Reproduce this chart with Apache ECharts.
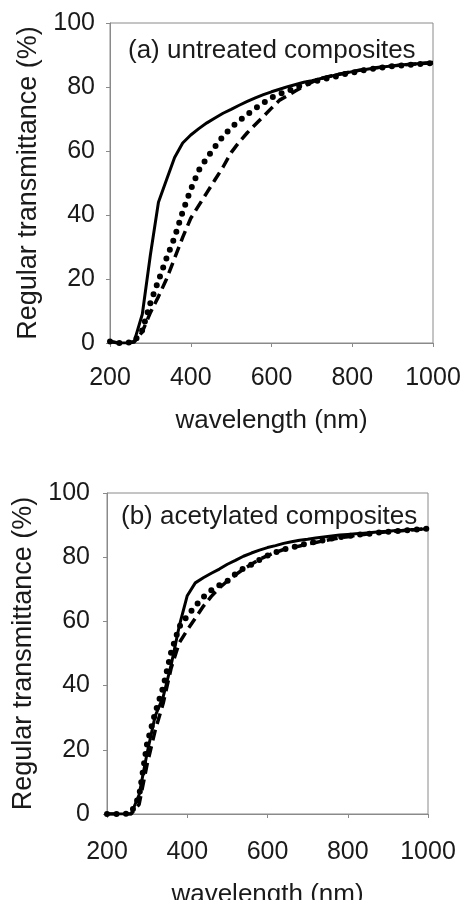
<!DOCTYPE html>
<html>
<head>
<meta charset="utf-8">
<script src="https://cdn.jsdelivr.net/npm/echarts@6/dist/echarts.min.js"></script>
<style>
  html, body { margin: 0; padding: 0; background: #fff; }
  #chart { width: 466px; height: 900px; }
</style>
</head>
<body>
<div id="chart"></div>
<script>
// wavelength (nm), 20 nm steps
var wavelengths = [200, 220, 240, 260, 280, 300, 320, 340, 360, 380, 400, 420, 440, 460, 480,
  500, 520, 540, 560, 580, 600, 620, 640, 660, 680, 700, 720, 740, 760, 780, 800, 820, 840,
  860, 880, 900, 920, 940, 960, 980, 1000];
var xTicks = [200, 400, 600, 800, 1000];
var yTicks = [0, 20, 40, 60, 80, 100];

// (a) untreated composites
var untreatedSolid = [0.5, 0, 0, 0.5, 9, 27.5, 44, 51, 58, 62.5, 65, 67, 68.8, 70.3, 71.8,
  73, 74.3, 75.5, 76.6, 77.6, 78.5, 79.3, 80.1, 80.8, 81.5, 82, 82.6, 83.2, 83.8, 84.3,
  84.8, 85.2, 85.6, 86, 86.3, 86.6, 86.9, 87.1, 87.3, 87.5, 87.7];
var untreatedDotted = [0.5, 0, 0, 0.5, 4, 12.5, 19.5, 26.5, 33, 41, 48, 54, 57.8, 61.3, 64.6,
  67.3, 69.4, 71.4, 73.3, 75, 76.7, 77.8, 78.7, 79.8, 80.8, 81.5, 82.2, 82.8, 83.3, 84,
  84.5, 85, 85.5, 85.9, 86.2, 86.5, 86.7, 86.9, 87.1, 87.3, 87.5];
var untreatedDashed = [0.5, 0, 0, 0.3, 3.5, 9.5, 14.5, 20, 26.5, 33, 39, 43, 47, 51, 55,
  59.5, 62.8, 65.7, 68.3, 70.8, 73.4, 75.9, 77.3, 78.8, 80.2, 81.5, 82.6, 83.2, 83.8, 84.3,
  84.8, 85.3, 85.7, 86, 86.3, 86.6, 86.8, 87, 87.2, 87.4, 87.5];

// (b) acetylated composites
var acetylSolid = [0, 0, 0, 0, 6, 19, 30.5, 36.5, 46.5, 58.5, 68, 72, 73.6, 75, 76.3,
  77.8, 79, 80.3, 81.3, 82.2, 83, 83.6, 84.3, 84.8, 85.3, 85.6, 86, 86.3, 86.6, 86.9,
  87.1, 87.3, 87.5, 87.7, 87.9, 88.1, 88.3, 88.4, 88.6, 88.7, 88.9];
var acetylDotted = [0, 0, 0, 0.3, 5.5, 22, 31.5, 39.5, 50.5, 58.3, 61.7, 64.8, 67.6, 69.7, 71.3,
  72.6, 74.8, 76.5, 77.7, 79.2, 80.5, 81.5, 82.4, 83, 83.7, 84.3, 84.8, 85.3, 85.8, 86.2,
  86.6, 86.9, 87.2, 87.4, 87.7, 87.9, 88.1, 88.3, 88.5, 88.7, 88.9];
var acetylDashed = [0, 0, 0, 0, 3, 15.5, 26, 34.5, 45.5, 53.3, 57.3, 61, 64.7, 67.8, 70.4,
  72.6, 74.5, 76.3, 77.8, 79.3, 80.5, 81.5, 82.4, 83, 83.5, 84.1, 84.6, 85.1, 85.6, 86,
  86.4, 86.8, 87.1, 87.4, 87.7, 87.9, 88.1, 88.3, 88.5, 88.7, 88.9];

var FONT = '"Liberation Sans", Arial, sans-serif';
var TXT = '#1a1a1a';
var AX = '#8a8a8a';

function pairs(ys) {
  return wavelengths.map(function(w, i) { return [w, ys[i]]; });
}

function xAxisFor(idx, labelGap, nameGap) {
  return {
    type: 'value', gridIndex: idx, min: 200, max: 1000, interval: 200,
    name: 'wavelength (nm)', nameLocation: 'middle', nameGap: nameGap,
    nameTextStyle: { fontFamily: FONT, fontSize: 26, color: TXT },
    axisLine: { lineStyle: { color: AX, width: 1 } },
    axisTick: { show: true, length: 4, lineStyle: { color: AX } },
    axisLabel: { fontFamily: FONT, fontSize: 25, color: TXT, margin: labelGap,
      formatter: function(v) { return xTicks.indexOf(v) >= 0 ? v : ''; } },
    splitLine: { show: false }
  };
}

function yAxisFor(idx, labelGap) {
  return {
    type: 'value', gridIndex: idx, min: 0, max: 100, interval: 20,
    name: 'Regular transmittance (%)', nameLocation: 'middle', nameGap: 66,
    nameTextStyle: { fontFamily: FONT, fontSize: 27, color: TXT },
    axisLine: { show: true, lineStyle: { color: AX, width: 1 } },
    axisTick: { show: true, length: 4, lineStyle: { color: AX } },
    axisLabel: { fontFamily: FONT, fontSize: 25, color: TXT, margin: labelGap,
      formatter: function(v) { return yTicks.indexOf(v) >= 0 ? v : ''; } },
    splitLine: { show: false }
  };
}

function line(idx, ys, style) {
  return {
    type: 'line', xAxisIndex: idx, yAxisIndex: idx, data: pairs(ys),
    symbol: 'none', smooth: false, silent: true,
    lineStyle: Object.assign({ color: '#000', join: 'round' }, style)
  };
}

var solid = { width: 3, type: 'solid' };
var dotted = { width: 6, type: [0, 9.5], cap: 'round' };
var dashed = { width: 3.5, type: [11, 6] };

var option = {
  backgroundColor: '#fff',
  animation: false,
  title: [
    { text: '(a) untreated composites', left: 123, top: 33,
      textStyle: { fontFamily: FONT, fontSize: 26, fontWeight: 'normal', color: TXT } },
    { text: '(b) acetylated composites', left: 116, top: 499,
      textStyle: { fontFamily: FONT, fontSize: 26, fontWeight: 'normal', color: TXT } }
  ],
  grid: [
    { left: 110, top: 23, width: 323, height: 320, show: true, borderColor: AX, borderWidth: 1,
      outerBoundsMode: 'none', containLabel: false },
    { left: 107, top: 493, width: 321, height: 321, show: true, borderColor: AX, borderWidth: 1,
      outerBoundsMode: 'none', containLabel: false }
  ],
  xAxis: [xAxisFor(0, 23, 65), xAxisFor(1, 26, 68)],
  yAxis: [yAxisFor(0, 15), yAxisFor(1, 17)],
  series: [
    line(0, untreatedDashed, dashed),
    line(0, untreatedDotted, dotted),
    line(0, untreatedSolid, solid),
    line(1, acetylDashed, dashed),
    line(1, acetylDotted, dotted),
    line(1, acetylSolid, solid)
  ]
};

var myChart = echarts.init(document.getElementById('chart'), null, { renderer: 'canvas' });
myChart.setOption(option);
</script>
</body>
</html>
